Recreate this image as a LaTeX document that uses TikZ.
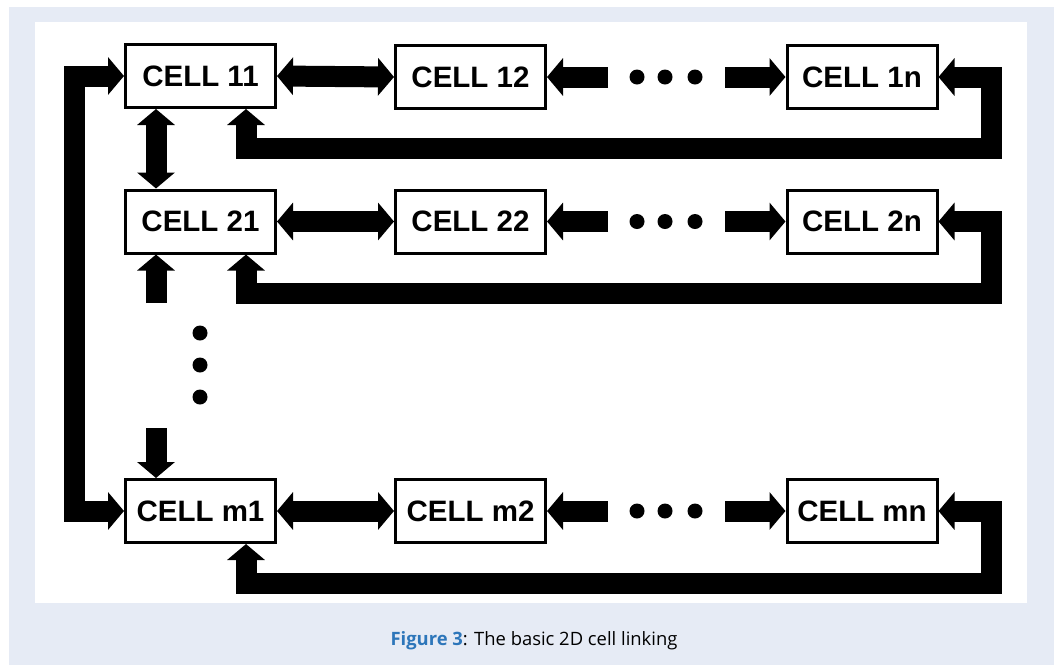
\documentclass[tikz,border=0pt]{standalone}
\usepackage{fontspec}
\setmainfont{Liberation Sans}
\newfontfamily\capfont{Open Sans}
\usetikzlibrary{arrows.meta}
\definecolor{bgc}{RGB}{230,235,245}
\definecolor{capblue}{RGB}{45,118,186}
\begin{document}
\begin{tikzpicture}[x=1pt,y=-1pt,
 cell/.style={draw,line width=3pt,minimum width=150pt,minimum height=63pt,inner sep=0pt,font=\fontsize{29.5}{34}\selectfont\bfseries},
 link/.style={line width=21pt,line join=miter},
 arr/.style={link,-{Triangle[width=37pt,length=16pt]}},
 dbl/.style={link,{Triangle[width=37pt,length=16pt]}-{Triangle[width=37pt,length=16pt]}},
 blob/.style={circle,fill,inner sep=0pt,minimum size=15pt}]
\useasboundingbox (0,0) rectangle (1059,665);
\fill[white] (0,0) rectangle (1059,665);
\fill[bgc] (9,7) rectangle (1054,665);
\fill[white] (35,22) rectangle (1027,603);

% cells
\node[cell] (c11) at (200.5,76) {CELL 11};
\node[cell] (c12) at (470.5,77) {CELL 12};
\node[cell] (c1n) at (862,77) {CELL 1n};
\node[cell] (c21) at (200.5,221.5) {CELL 21};
\node[cell] (c22) at (470.5,221.5) {CELL 22};
\node[cell] (c2n) at (862,221.5) {CELL 2n};
\node[cell] (cm1) at (200.5,511) {CELL m1};
\node[cell] (cm2) at (470.5,511) {CELL m2};
\node[cell] (cmn) at (862,511) {CELL mn};

% horizontal dots
\foreach \r/\y in {1/77,2/221.5,m/511}{
  \node[blob] (d\r a) at (637,\y) {};
  \node[blob] (d\r b) at (665,\y) {};
  \node[blob] (d\r c) at (695,\y) {};
  \coordinate (s\r l) at (608,\y);
  \coordinate (s\r r) at (725,\y);
}
% vertical dots
\node[blob] (va) at (200,333) {};
\node[blob] (vb) at (200,365) {};
\node[blob] (vc) at (200,397) {};

% row links
\draw[dbl] (c11.east) -- (c12.west);
\draw[arr] (s1l) -- (c12.east);
\draw[arr] (s1r) -- (c1n.west);
\draw[dbl] (c21.east) -- (c22.west);
\draw[arr] (s2l) -- (c22.east);
\draw[arr] (s2r) -- (c2n.west);
\draw[dbl] (cm1.east) -- (cm2.west);
\draw[arr] (sml) -- (cm2.east);
\draw[arr] (smr) -- (cmn.west);

% feedback loops
\coordinate (r1) at (991,148);
\coordinate (r2) at (991,293);
\coordinate (rm) at (991,583);
\draw[dbl] (c1n.east) -| (r1) -| ([xshift=45.5pt]c11.south);
\draw[dbl] (c2n.east) -| (r2) -| ([xshift=45.5pt]c21.south);
\draw[dbl] (cmn.east) -| (rm) -| ([xshift=45.5pt]cm1.south);

% vertical links
\draw[dbl] ([xshift=-44.5pt]c11.south) -- ([xshift=-44.5pt]c21.north);
\coordinate (u2) at (156,303);
\draw[arr] (u2) -- (u2 |- c21.south);
\coordinate (um) at (156,428);
\draw[arr] (um) -- (um |- cm1.north);

% left loop
\coordinate (lft) at (74,300);
\draw[dbl] (c11.west) -| (lft) |- (cm1.west);

% caption
\node[font=\capfont\fontsize{18.4}{22}\selectfont] (cap) at (534,641) {\textcolor{capblue}{\bfseries Figure 3}: The basic 2D cell linking};
\end{tikzpicture}
\end{document}
